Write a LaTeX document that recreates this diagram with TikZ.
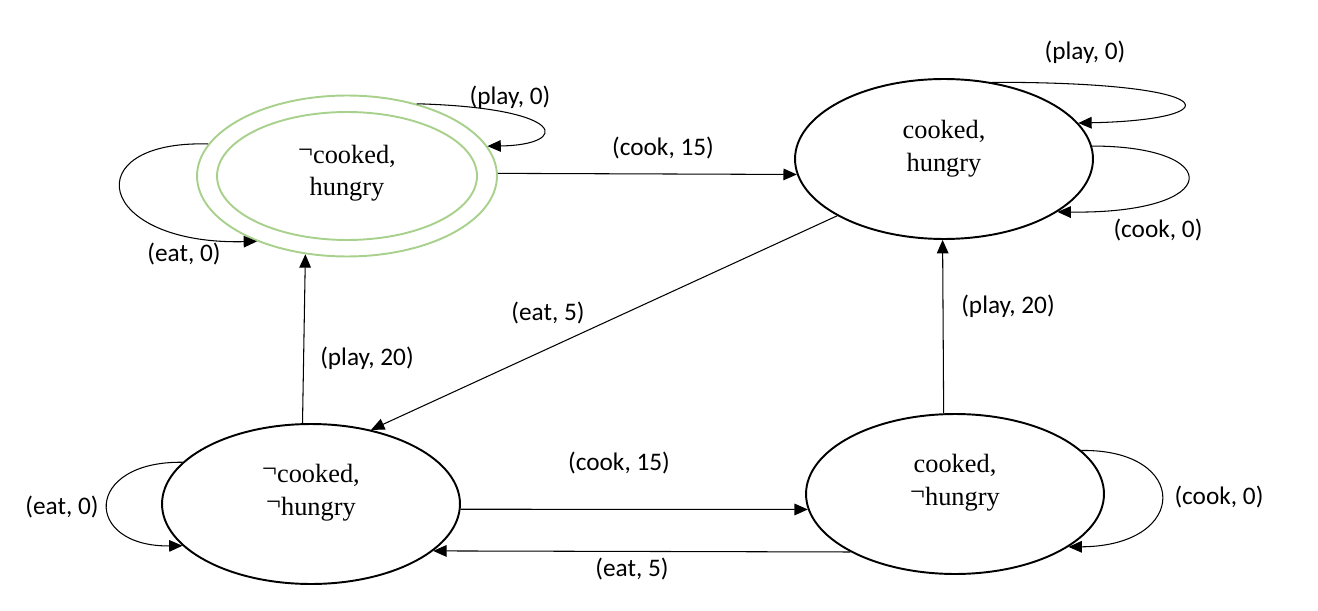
\documentclass[tikz,border=0pt]{standalone}
\usepackage{fontspec}
\setmainfont{Liberation Serif}
\newfontfamily\labfont{Carlito}
\usepackage[HTML]{xcolor}
\usepackage{tikz}
\usetikzlibrary{positioning, arrows.meta, shapes.geometric}
\definecolor{accgreen}{HTML}{A9D18E}
\newcommand{\negmark}{\raisebox{0.4ex}{¬}}

\begin{document}
\begin{tikzpicture}[x=0.02cm, y=-0.02cm,
  stnode/.style={ellipse, draw, line width=1.1pt, minimum width=5.96cm,
    minimum height=3.2cm, inner sep=0pt},
  acc/.style={ellipse, draw=accgreen, line width=1.1pt, inner sep=0pt},
  sttext/.style={align=center, inner sep=0pt,
    font=\fontsize{15}{18.5}\selectfont},
  edge/.style={-{Triangle[length=7.6pt,width=6.6pt]}, line width=0.6pt},
  lbl/.style={font=\labfont\fontsize{14.4}{17}\selectfont, inner sep=1pt}]
\useasboundingbox (0,0) rectangle (1318,611);

% States
\node[acc, minimum width=6cm, minimum height=3.22cm] (s1) at (347,176) {};
\node[acc, minimum width=5.2cm, minimum height=2.56cm,
  label={[sttext, yshift=1.7pt]center:{\negmark cooked,\\hungry}}] (s1in) at (s1) {};
\node[stnode, label={[sttext, yshift=6pt]center:{cooked,\\hungry}}] (s2) at (944,159) {};
\node[stnode, label={[sttext, yshift=6.5pt]center:{\negmark cooked,\\\negmark hungry}}] (s3) at (311,504) {};
\node[stnode, label={[sttext, yshift=6.5pt]center:{cooked,\\\negmark hungry}}] (s4) at (955,494) {};

% Transitions
\draw[edge] (s1.1) -- (s2.186);
\draw[edge] (s2.208) -- (s3.51);
\draw[edge] (s3.96) -- (s1.242);
\draw[edge] (s4.98) -- (s2.269);
\draw[edge] (s3.358) -- (s4.186);
\draw[edge] (s4.209) -- (s3.339);

% Self loops
\draw[edge] (s1.46) .. controls (570,108) and (570,145) .. (s1.12);
\draw[edge] (s1.167) .. controls (75,140) and (95,245) .. (s1.216);
\draw[edge] (s2.58) .. controls (1230,82) and (1230,120) .. (s2.15);
\draw[edge] (s2.5) .. controls (1225,146) and (1225,214) .. (s2.335);
\draw[edge] (s3.162) .. controls (83,461) and (83,547) .. (s3.198);
\draw[edge] (s4.19) .. controls (1190,449) and (1190,546) .. (s4.335);

% Labels
\node[lbl] (lplay1) at (510,97) {(play, 0)};
\node[lbl] (leat1) at (184,254) {(eat, 0)};
\node[lbl] (lcook1) at (663,148) {(cook, 15)};
\node[lbl] (lplay2) at (1085,52) {(play, 0)};
\node[lbl] (lcook2) at (1158,230) {(cook, 0)};
\node[lbl] (leat2) at (548,313) {(eat, 5)};
\node[lbl] (lplay3) at (1008,306) {(play, 20)};
\node[lbl] (lplay4) at (367,358) {(play, 20)};
\node[lbl] (leat3) at (62,507) {(eat, 0)};
\node[lbl] (lcook3) at (619,463) {(cook, 15)};
\node[lbl] (lcook4) at (1219,497) {(cook, 0)};
\node[lbl] (leat4) at (632,569) {(eat, 5)};
\end{tikzpicture}
\end{document}
